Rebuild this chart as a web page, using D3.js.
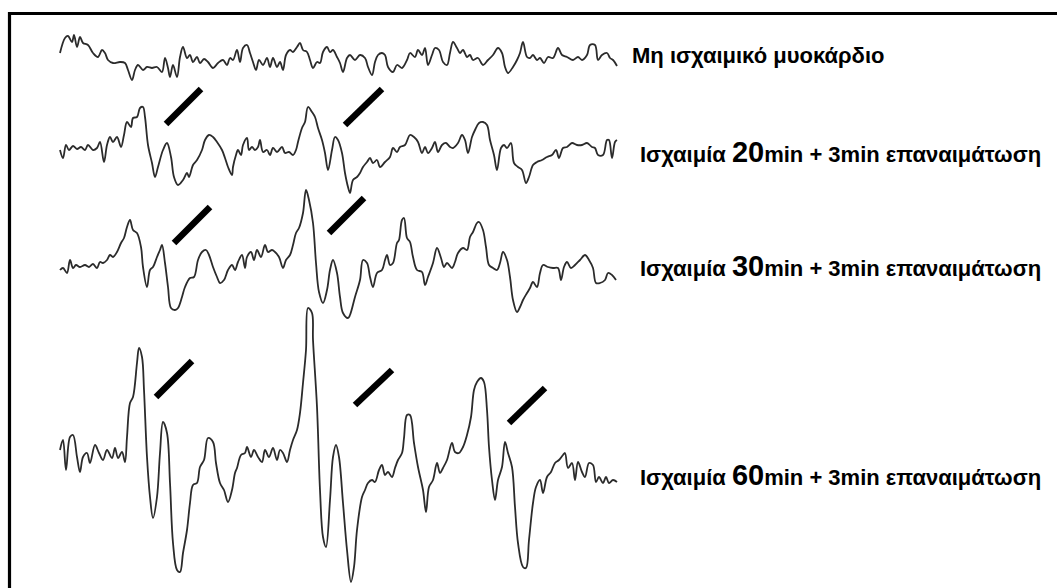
<!DOCTYPE html>
<html>
<head>
<meta charset="utf-8">
<script src="https://cdn.jsdelivr.net/npm/d3@7"></script>
<style>
  html, body { margin: 0; padding: 0; background: #fff; }
  svg { display: block; }
</style>
</head>
<body>
<svg id="chart" width="1057" height="588"></svg>
<script>
// Electrogram recordings: time (ms from window start), amplitude (units of 10 µV)
const traceControl = [
  [0,7],[5,22],[8,24],[12,18],[14,25],[17,13],[20,23],[23,17],[28,15],[33,7],[38,3],[42,10],[45,7],[48,0],
  [53,-3],[60,-2],[65,-3],[68,-10],[72,-20],[75,-10],[78,-5],[83,-10],[87,-7],[92,-8],[97,-7],[102,-12],
  [105,2],[108,-8],[110,-17],[113,-5],[117,-17],[120,3],[123,13],[127,2],[130,5],[133,-2],[137,3],[140,-3],
  [144,1],[148,-2],[153,-8],[158,-3],[163,0],[167,-5],[170,2],[173,0],[177,10],[180,-2],[183,12],[187,15],
  [190,7],[193,-2],[196,-10],[199,0],[203,-5],[207,2],[210,-7],[213,2],[217,-7],[220,-2],[223,-10],[226,5],
  [230,10],[233,8],[237,13],[240,17],[243,10],[247,8],[250,0],[253,-8],[257,-2],[260,-3],[263,8],[267,13],
  [270,8],[273,10],[277,3],[280,-3],[283,-12],[287,2],[290,5],[295,0],[300,5],[305,2],[308,-7],[312,-15],
  [315,-2],[318,5],[322,7],[325,5],[328,-7],[333,-12],[337,-5],[342,-8],[347,0],[350,7],[355,3],[358,10],
  [362,5],[365,12],[368,-5],[372,5],[375,12],[379,10],[383,-2],[387,-5],[390,7],[393,18],[397,12],[400,7],
  [403,10],[407,3],[410,5],[413,0],[418,2],[423,-5],[428,0],[433,5],[438,12],[442,7],[445,-7],[448,-13],
  [453,-7],[457,0],[460,7],[463,18],[467,3],[470,2],[473,5],[477,0],[480,2],[484,-3],[488,3],[493,2],
  [498,12],[502,5],[507,3],[513,0],[518,3],[522,0],[527,5],[530,15],[535,15],[538,0],[542,5],[547,7],
  [550,2],[553,0],[557,-6]
];

const traceIsch20 = [
  [0,0],[3,-8],[6,5],[9,0],[13,4],[17,1],[21,3],[25,0],[28,5],[33,0],[37,2],[40,8],[44,-12],[47,5],[50,13],
  [53,8],[57,13],[61,3],[64,15],[67,28],[71,23],[73,32],[77,33],[80,42],[83,43],[85,33],[88,5],[92,-13],
  [95,-27],[98,-17],[103,0],[107,7],[111,-7],[114,-27],[118,-35],[123,-30],[127,-23],[129,-27],[133,-15],
  [137,-10],[142,0],[145,10],[149,15],[153,13],[157,8],[162,0],[165,-8],[168,-17],[172,-25],[173,-17],
  [176,-5],[178,0],[181,-5],[183,5],[187,12],[189,0],[192,3],[195,0],[198,3],[200,10],[203,-2],[207,0],
  [210,-5],[213,2],[217,-2],[222,3],[225,-3],[229,-2],[233,-5],[236,0],[238,8],[242,22],[245,28],[248,43],
  [252,38],[255,33],[258,22],[262,10],[265,-3],[268,-20],[272,0],[275,13],[278,10],[282,-3],[285,-23],
  [288,-37],[290,-43],[293,-30],[297,-27],[300,-23],[303,-17],[307,-12],[310,-8],[313,-13],[317,-10],
  [320,-17],[325,-12],[330,-7],[333,2],[337,-2],[340,3],[345,5],[350,15],[354,13],[358,8],[362,-3],[365,3],
  [368,-3],[372,2],[375,8],[378,-2],[382,5],[386,7],[390,3],[393,2],[398,7],[402,15],[405,10],[408,-3],
  [412,13],[415,20],[419,27],[423,28],[427,25],[430,10],[434,-5],[437,-20],[441,2],[444,5],[447,2],[451,7],
  [454,-13],[458,-17],[462,-20],[466,-33],[469,-27],[473,-15],[477,-12],[482,-10],[487,-7],[492,-5],
  [496,0],[499,-8],[503,2],[507,3],[512,7],[517,5],[522,5],[527,7],[532,3],[535,2],[538,-5],[543,-5],
  [547,10],[549,10],[552,-8],[555,8],[557,10]
];

const traceIsch30 = [
  [0,-5],[3,-3],[7,-8],[10,5],[13,-3],[16,0],[20,-2],[25,0],[29,-2],[33,1],[37,-3],[40,3],[43,2],[47,5],
  [50,10],[53,8],[57,13],[61,22],[64,27],[67,38],[70,45],[73,35],[77,32],[81,18],[83,-2],[87,-22],[90,-5],
  [93,-2],[97,8],[100,15],[102,20],[105,2],[108,-22],[111,-43],[115,-45],[118,-43],[122,-32],[125,-22],
  [130,-13],[134,-12],[138,5],[142,13],[146,15],[149,10],[153,-2],[157,-12],[160,-18],[164,-15],[168,-5],
  [172,0],[175,-5],[178,3],[182,10],[185,-3],[187,8],[191,13],[194,5],[197,15],[201,8],[205,20],[208,13],
  [212,15],[215,13],[219,8],[223,-3],[226,5],[230,10],[233,20],[236,32],[239,37],[243,52],[246,75],[249,65],
  [253,42],[256,2],[259,-27],[263,-38],[267,-25],[270,-5],[273,5],[277,-8],[280,-32],[283,-48],[288,-53],
  [290,-50],[295,-32],[300,-15],[303,5],[307,2],[310,-12],[313,-22],[317,-8],[322,-5],[325,5],[327,10],
  [330,0],[333,2],[337,22],[339,25],[342,45],[344,47],[347,27],[350,23],[353,8],[357,-5],[362,-7],[365,-20],
  [368,-12],[373,2],[377,17],[381,7],[384,-2],[387,2],[392,-3],[395,3],[398,12],[403,17],[407,15],[410,28],
  [413,33],[417,42],[419,43],[423,35],[426,18],[429,0],[433,-3],[437,-5],[440,2],[443,13],[447,5],[450,-12],
  [453,-35],[457,-47],[460,-42],[463,-35],[467,-28],[470,-23],[473,-17],[477,-22],[480,-8],[483,0],[488,-2],
  [493,-3],[498,-3],[501,-15],[504,-2],[507,3],[511,-3],[515,0],[520,5],[525,10],[529,5],[533,-3],[536,-18],
  [540,-18],[545,-15],[548,-8],[552,-10],[556,-15]
];

const traceIsch60 = [
  [0,5],[3,15],[6,-15],[10,18],[13,20],[17,-2],[20,-17],[23,-2],[27,2],[30,-8],[35,10],[39,2],[43,-5],[47,5],
  [52,-3],[55,7],[58,-3],[62,3],[65,-7],[67,18],[70,52],[73,58],[77,92],[79,107],[82,98],[84,65],[87,-2],
  [90,-42],[93,-63],[97,-42],[100,2],[103,33],[107,22],[110,-28],[113,-88],[117,-115],[120,-117],[123,-98],
  [127,-75],[130,-48],[133,-30],[137,-28],[140,-12],[144,-5],[148,17],[153,13],[156,-8],[160,-28],[164,-35],
  [168,-47],[172,-35],[175,-18],[177,-13],[181,0],[185,2],[187,8],[191,-2],[194,5],[198,-2],[202,-7],[205,5],
  [209,-2],[213,7],[217,-5],[220,5],[223,2],[227,-7],[230,5],[233,15],[237,25],[240,42],[243,72],[246,105],
  [248,147],[252,142],[253,115],[257,48],[260,-35],[263,-82],[266,-92],[270,-45],[273,-2],[276,10],[279,-2],
  [283,-48],[287,-95],[291,-127],[294,-112],[297,-75],[302,-42],[305,-35],[308,-28],[312,-25],[315,-27],
  [319,-15],[322,-10],[325,-20],[328,-17],[332,-22],[335,-13],[338,-5],[342,2],[344,17],[347,40],[350,40],
  [354,12],[358,-12],[363,-35],[366,-57],[369,-32],[373,-25],[377,-8],[380,-18],[383,-13],[387,-5],[392,12],
  [395,3],[399,2],[403,8],[407,20],[411,38],[414,65],[417,73],[421,77],[424,73],[427,45],[429,8],[432,-25],
  [435,-45],[438,-25],[442,-12],[445,13],[448,2],[452,-12],[455,-52],[458,-88],[463,-112],[466,-113],
  [469,-85],[473,-48],[476,-32],[480,-25],[483,-38],[487,-22],[491,-17],[495,-8],[499,-5],[503,0],[505,2],
  [508,-13],[512,-8],[515,-25],[518,-7],[522,-17],[525,-22],[529,-8],[533,-10],[536,-27],[539,-22],
  [543,-28],[546,-22],[549,-28],[553,-25],[557,-27]
];

// ST-segment markers per trace: [t0, v0, t1, v1]
const markersIsch20 = [[106,26,141,61],[285,25,322,61]];
const markersIsch30 = [[114,22,150,58],[269,32,304,67]];
const markersIsch60 = [[96,58,132,94],[295,50,332,85],[449,32,485,67]];

// Labels
const controlLabel = "Μη ισχαιμικό μυοκάρδιο";
const ischaemiaPrefix = "Ισχαιμία ";
const ischaemiaMinutes = ["20", "30", "60"];
const ischaemiaSuffix = "min + 3min επαναιμάτωση";

const svg = d3.select("#chart");
const W = 1057, H = 588;

// frame (top and left edges)
svg.append("path")
  .attr("d", `M9.5,${H} V13.5 H${W}`)
  .attr("fill", "none")
  .attr("stroke", "#000")
  .attr("stroke-width", 3.2);

const x = d3.scaleLinear().domain([0, 557]).range([60, 617]);

const traces = [
  { data: traceControl, base: 60, markers: [], label: null },
  { data: traceIsch20, base: 150, markers: markersIsch20, label: ischaemiaMinutes[0], labelY: 162 },
  { data: traceIsch30, base: 265, markers: markersIsch30, label: ischaemiaMinutes[1], labelY: 276 },
  { data: traceIsch60, base: 455, markers: markersIsch60, label: ischaemiaMinutes[2], labelY: 485 }
];

const fontFamily = "'Liberation Sans', Arial, Helvetica, sans-serif";
const labelSize = 22, digitSize = 29;

traces.forEach((tr, i) => {
  const y = d3.scaleLinear().domain([-150, 150]).range([tr.base + 150, tr.base - 150]);
  const line = d3.line()
    .x(d => x(d[0]))
    .y(d => y(d[1]))
    .curve(d3.curveCatmullRom.alpha(0.5));

  svg.append("path")
    .datum(tr.data)
    .attr("d", line)
    .attr("fill", "none")
    .attr("stroke", "#2b2b2b")
    .attr("stroke-width", 1.8)
    .attr("stroke-linejoin", "round");

  svg.selectAll(null)
    .data(tr.markers)
    .enter().append("line")
    .attr("x1", d => x(d[0])).attr("y1", d => y(d[1]))
    .attr("x2", d => x(d[2])).attr("y2", d => y(d[3]))
    .attr("stroke", "#000")
    .attr("stroke-width", 6.5)
    .attr("stroke-linecap", "butt");

  if (i === 0) {
    svg.append("text")
      .attr("x", 632).attr("y", 63)
      .attr("font-family", fontFamily)
      .attr("font-weight", "bold")
      .attr("font-size", labelSize)
      .attr("fill", "#000")
      .text(controlLabel);
  } else {
    const t = svg.append("text")
      .attr("x", 640).attr("y", tr.labelY)
      .attr("font-family", fontFamily)
      .attr("font-weight", "bold")
      .attr("font-size", labelSize)
      .attr("fill", "#000");
    t.append("tspan").text(ischaemiaPrefix);
    t.append("tspan").attr("font-size", digitSize).text(tr.label);
    t.append("tspan").text(ischaemiaSuffix);
  }
});
</script>
</body>
</html>
